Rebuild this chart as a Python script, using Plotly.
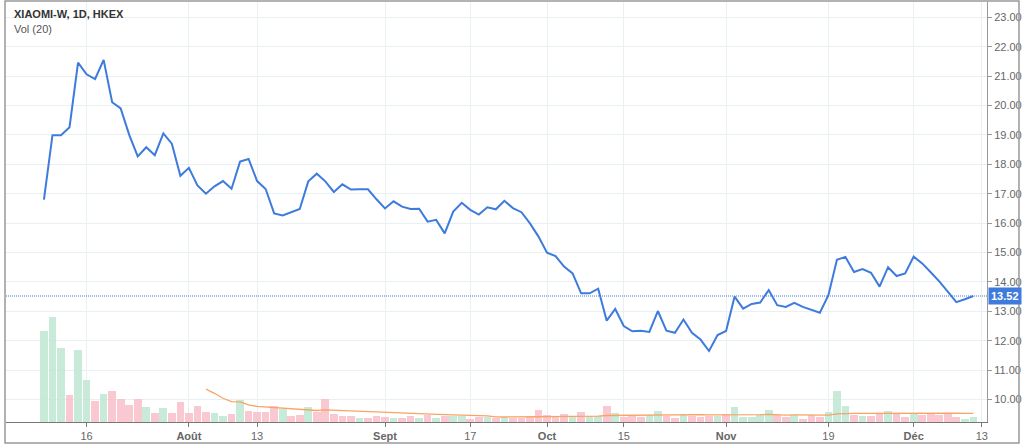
import pandas as pd
import plotly.graph_objects as go

# ---------------- data ----------------
holidays = ["2018-09-25", "2018-10-01", "2018-10-17"]
trading_days = [d.strftime("%Y-%m-%d") for d in pd.bdate_range("2018-07-09", "2018-12-13")
                if d.strftime("%Y-%m-%d") not in holidays]

close = [16.80, 18.99, 18.99, 19.26, 21.46, 21.06, 20.90, 21.55, 20.11, 19.90,
         19.00, 18.27, 18.58, 18.31, 19.05, 18.70, 17.61, 17.88, 17.28, 17.00,
         17.25, 17.43, 17.17, 18.09, 18.18, 17.43, 17.16, 16.33, 16.26, 16.36,
         16.48, 17.42, 17.68, 17.42, 17.06, 17.32, 17.14, 17.15, 17.15, 16.81,
         16.50, 16.74, 16.56, 16.48, 16.49, 16.05, 16.11, 15.65, 16.39, 16.69,
         16.45, 16.29, 16.54, 16.47, 16.76, 16.51, 16.37, 15.99, 15.54, 14.99,
         14.88, 14.52, 14.29, 13.61, 13.61, 13.77, 12.68, 13.08, 12.50, 12.32,
         12.34, 12.30, 13.01, 12.34, 12.27, 12.72, 12.27, 12.04, 11.65, 12.19,
         12.33, 13.50, 13.09, 13.25, 13.30, 13.72, 13.21, 13.15, 13.29, 13.15,
         13.06, 12.95, 13.55, 14.75, 14.85, 14.34, 14.44, 14.31, 13.84, 14.50,
         14.20, 14.29, 14.86, 14.63, 14.33, 14.02, 13.67, 13.31, 13.41, 13.52]

volume = [91, 105, 74, 27, 72, 42, 21, 28, 31, 23,
          17, 23, 15, 9, 14, 9, 20, 9, 16, 10,
          9, 6, 8, 22, 11, 10, 10, 16, 13, 6,
          7, 15, 10, 23, 8, 6.5, 6, 4, 4, 6,
          5, 4, 4, 6, 4, 7, 4, 6, 6, 6,
          3, 5, 5, 4, 5, 4, 4, 5, 12, 7,
          6, 8, 6, 10, 6, 6, 16, 9, 5, 6,
          5, 7, 11, 6, 4, 8, 6, 5, 6, 6,
          8, 15, 5, 5, 7, 12, 7, 5, 7, 3,
          7, 5, 10, 31, 16, 7, 6, 6, 8, 11,
          9, 5, 9, 7, 8, 7, 9, 5, 3, 5]

up_day = [1, 1, 1, 0, 1, 1, 0, 1, 0, 0,
          0, 0, 1, 0, 1, 0, 0, 0, 0, 0,
          1, 1, 0, 1, 0, 0, 0, 0, 1, 0,
          0, 1, 0, 0, 0, 0, 0, 1, 0, 0,
          0, 1, 0, 0, 1, 0, 1, 0, 1, 1,
          0, 0, 1, 0, 1, 0, 0, 0, 0, 0,
          0, 0, 1, 0, 1, 1, 0, 1, 0, 0,
          0, 1, 1, 0, 0, 1, 0, 0, 0, 1,
          0, 1, 1, 1, 1, 1, 0, 0, 1, 0,
          0, 0, 1, 1, 1, 0, 1, 0, 0, 1,
          0, 0, 1, 0, 0, 0, 0, 0, 1, 1]

tick_dates = ["2018-07-16", "2018-08-01", "2018-08-13", "2018-09-03", "2018-09-17",
              "2018-10-02", "2018-10-15", "2018-11-01", "2018-11-19", "2018-12-03", "2018-12-13"]
tick_labels = ["16", "<b>Août</b>", "13", "<b>Sept</b>", "17", "<b>Oct</b>", "15",
               "<b>Nov</b>", "19", "<b>Déc</b>", "13"]

title_text = "XIAOMI-W, 1D, HKEX"
vol_text = "Vol (20)"
last_price = close[-1]

# ---------------- figure ----------------
dates = trading_days[:len(close)]
vol_ma = pd.Series(volume).rolling(20).mean().tolist()

GREEN = "rgba(190,230,210,0.85)"
RED = "rgba(248,190,200,0.85)"
BLUE = "#3e7bdc"
GRID = "#e9f0f4"

fig = go.Figure()
fig.add_trace(go.Bar(
    x=dates, y=volume, yaxis="y2",
    marker=dict(color=[GREEN if u else RED for u in up_day], line=dict(width=0)),
    width=0.9, showlegend=False, hoverinfo="skip"))
fig.add_trace(go.Scatter(
    x=dates, y=vol_ma, yaxis="y2", mode="lines",
    line=dict(color="#f7a466", width=1.3), showlegend=False, hoverinfo="skip"))
fig.add_trace(go.Scatter(
    x=dates, y=close, yaxis="y", mode="lines",
    line=dict(color=BLUE, width=2), showlegend=False))

fig.update_layout(
    width=1024, height=448,
    margin=dict(l=6, r=35, t=2, b=26),
    paper_bgcolor="white", plot_bgcolor="white",
    font=dict(family="Liberation Sans, Arial, sans-serif", size=11, color="#555"),
    bargap=0,
    xaxis=dict(
        type="category", categoryorder="array", categoryarray=trading_days,
        range=[-4.45, 110.6],
        tickmode="array", tickvals=tick_dates, ticktext=tick_labels,
        showgrid=True, gridcolor=GRID, gridwidth=1,
        showline=True, linecolor="#777", linewidth=1,
        ticks="outside", ticklen=4, tickcolor="#777",
        tickfont=dict(size=11, color="#666"),
        zeroline=False, fixedrange=True),
    yaxis=dict(
        side="right", range=[9.235, 23.52], dtick=1, tick0=0,
        tickformat=".2f",
        showgrid=True, gridcolor=GRID, gridwidth=1,
        showline=True, linecolor="#999", linewidth=1,
        ticks="outside", ticklen=4, tickcolor="#999",
        tickfont=dict(size=11, color="#666"),
        zeroline=False),
    yaxis2=dict(
        overlaying="y", range=[0, 420], visible=False, showgrid=False),
)

# dotted last-price line
fig.add_shape(type="line", xref="paper", x0=0, x1=1, yref="y", y0=last_price, y1=last_price,
              line=dict(color=BLUE, width=1, dash="1px,1px"))
# outer frame
fig.add_shape(type="rect", xref="paper", yref="paper",
              x0=-0.001, x1=1.0326, y0=-0.05, y1=1.0024,
              line=dict(color="#999", width=1.5), layer="above")

fig.add_annotation(xref="paper", yref="y", x=1.0, y=last_price, xanchor="left", yanchor="middle",
                   text="<b>%.2f</b>" % last_price, showarrow=False,
                   font=dict(color="white", size=11), bgcolor=BLUE,
                   borderpad=2, xshift=1)
fig.add_annotation(xref="paper", yref="paper", x=0.006, y=0.972, xanchor="left", yanchor="middle",
                   text="<b>" + title_text + "</b>", showarrow=False,
                   font=dict(color="#333", size=11))
fig.add_annotation(xref="paper", yref="paper", x=0.006, y=0.936, xanchor="left", yanchor="middle",
                   text=vol_text, showarrow=False,
                   font=dict(color="#555", size=11))

fig.write_html("out.html")
